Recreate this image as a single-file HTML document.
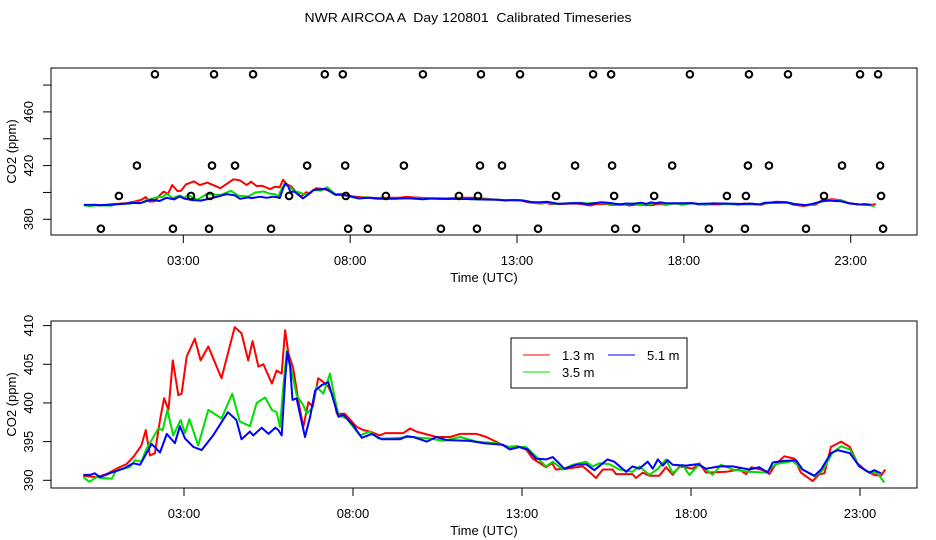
<!DOCTYPE html>
<html><head><meta charset="utf-8"><style>
html,body{margin:0;padding:0;background:#fff;}
svg{display:block;font-family:"Liberation Sans",sans-serif;}
</style></head><body>
<svg id="chart" width="936" height="540" viewBox="0 0 936 540" xmlns="http://www.w3.org/2000/svg">
<rect width="936" height="540" fill="#fff"/>
<text x="468" y="22" text-anchor="middle" font-size="13" xml:space="preserve" style="white-space:pre" textLength="327" lengthAdjust="spacingAndGlyphs">NWR AIRCOA A  Day 120801  Calibrated Timeseries</text>
<g id="top"></g>
<g id="bot"></g>
</svg>
<script>
const xTickHours = [3, 8, 13, 18, 23];
const xTickLabels = ["03:00", "08:00", "13:00", "18:00", "23:00"];
const topYTicks = [380, 400, 420, 440, 460, 480];
const topYLabels = ["380", "", "420", "", "460", ""];
const botYTicks = [390, 395, 400, 405, 410];
const botYLabels = ["390", "395", "400", "405", "410"];

const redTimes = [0.02,0.41,0.71,1.0,1.3,1.5,1.74,1.87,1.99,2.14,2.29,2.41,2.54,2.67,2.83,2.93,3.08,3.32,3.49,3.72,4.11,4.5,4.7,4.9,5.03,5.2,5.35,5.6,5.74,5.89,5.99,6.09,6.23,6.38,6.53,6.68,6.81,6.97,7.12,7.27,7.42,7.52,7.76,8.11,8.3,8.5,8.8,8.95,9.49,9.69,9.88,10.47,10.87,11.17,11.66,11.94,12.23,12.53,12.87,13.12,13.32,13.71,13.89,14.0,14.3,14.8,14.99,15.19,15.39,15.68,15.78,16.27,16.37,16.57,16.77,17.06,17.26,17.46,17.66,18.05,18.25,18.44,19.04,19.43,19.63,19.78,20.22,20.32,20.51,20.76,21.06,21.25,21.6,21.8,21.95,22.14,22.44,22.7,22.93,23.18,23.42,23.62,23.75];
const redValues = [390.6,390.4,390.8,391.5,392.1,393.0,394.5,396.5,393.2,393.5,397.8,400.6,399.1,405.5,401.0,401.2,406,408.3,405.5,407.3,403.2,409.8,409,405.5,408,404.7,405,402.5,404.2,403.8,409.4,406.4,404.5,400.4,396.9,400.1,399.5,403.2,402.7,402.1,400.8,398.6,398.6,396.9,396.5,396.3,395.8,396.1,396.1,396.7,396.3,395.6,395.6,396.0,396.0,395.6,395.0,394.3,394.4,394.0,392.8,391.7,392.2,391.4,391.5,391.8,391.1,390.3,391.4,391.4,390.8,390.8,390.3,391.0,390.6,390.6,391.7,390.7,391.8,391.5,392.2,391.0,391.1,391.4,390.8,391.7,391.2,390.8,392.1,393.1,392.8,391.0,389.9,390.8,390.9,394.3,395.0,394.3,392.2,391.2,390.7,390.6,391.4];

const greenTimes = [0.02,0.2,0.41,0.6,0.86,1.0,1.4,1.55,1.74,1.89,2.04,2.24,2.37,2.51,2.68,2.9,3.03,3.16,3.42,3.72,4.11,4.43,4.65,4.95,5.15,5.4,5.6,5.74,5.84,5.94,6.04,6.18,6.33,6.53,6.63,6.78,6.92,7.12,7.32,7.47,7.57,7.81,8.2,8.5,8.75,9.1,9.69,10.28,10.67,11.17,11.66,12.25,12.64,13.12,13.41,13.71,13.91,14.2,14.5,14.89,15.09,15.29,15.58,15.88,16.27,16.47,16.77,17.02,17.26,17.46,17.75,17.95,18.25,18.64,18.89,19.23,19.72,20.22,20.51,21.01,21.3,21.65,21.9,22.19,22.44,22.7,22.98,23.23,23.52,23.72];
const greenValues = [390.4,389.8,390.4,390.3,390.2,391.3,391.7,392.6,392.4,394.1,395.2,396.7,396.5,399.1,395.8,397.8,396.1,397.9,394.5,399.1,398,401.2,397.6,397,400,400.7,399.1,398.8,396.9,402.3,406.8,404.2,401,399.7,398.6,399.3,402.1,401.2,403.8,400.4,398.4,398,395.8,396.3,395.4,395.4,395.6,395.4,395.1,395.6,395.0,394.8,394.3,394.3,393.1,391.8,392.4,391.4,392,392.4,391.8,392.2,392.1,391.4,391.1,391.8,390.7,391.5,392.7,390.9,392,390.7,392.1,390.7,392,391.4,391.1,391,392.1,392.5,391.4,390.5,391.3,393.6,394.4,394,391.8,391.1,390.9,389.7];

const blueTimes = [0.02,0.22,0.36,0.51,0.8,1.2,1.5,1.7,1.89,2.04,2.29,2.49,2.73,2.88,3.03,3.28,3.52,3.86,4.3,4.55,4.7,4.95,5.05,5.3,5.5,5.7,5.79,5.89,5.99,6.06,6.14,6.21,6.33,6.43,6.58,6.73,6.88,7.07,7.27,7.42,7.57,7.71,8.01,8.26,8.55,8.85,9.39,9.59,9.79,10.18,10.47,10.77,11.46,11.86,12.12,12.43,12.64,12.92,13.17,13.41,13.71,13.91,14.25,14.6,14.89,15.14,15.53,15.73,16.08,16.27,16.47,16.72,16.87,17.02,17.17,17.31,17.46,17.85,18.2,18.44,18.84,19.23,19.73,20.02,20.27,20.42,20.71,21.11,21.3,21.65,21.85,22.14,22.34,22.7,22.98,23.28,23.42,23.62];
const blueValues = [390.7,390.7,390.9,390.4,390.9,391.5,392.2,392,393.5,394.7,393.6,396,394.8,397,395.4,394.3,393.9,395.8,398.8,397.8,395.3,396.3,395.8,396.8,396,396.8,396.5,395.8,403,406.6,404.7,400.4,400.6,398.6,395.6,398.2,401.6,402.3,402.7,400.4,398.2,398.5,397.1,395.5,396,395.3,395.3,395.7,395.6,395,395.6,395.2,395.1,394.8,394.7,394.6,394.0,394.3,394.0,392.8,392.7,393,391.5,392,392.1,391.3,392.7,392.4,391.1,391.8,391.5,392.4,391.5,392.7,391.9,392.6,392,391.9,392.1,391.5,391.8,391.8,391.4,391.7,391,392.3,392.5,392.6,391.4,390.6,391.4,393.5,393.9,393.5,391.8,391,391.3,390.9];

const flagRowValues = [488, 420, 397.4, 373];
const flagHoursRow1 = [2.15,3.92,5.09,7.24,7.78,10.18,11.92,13.09,15.28,15.82,18.18,19.95,21.12,23.28,23.82];
const flagHoursRow2 = [1.61,3.86,4.55,6.71,7.85,9.61,11.89,12.55,14.74,15.85,17.65,19.92,20.55,22.74,23.88];
const flagHoursRow3 = [1.07,3.23,3.80,6.17,7.87,9.07,11.26,11.83,14.17,15.91,17.11,19.29,19.86,22.2,23.91];
const flagHoursRow4 = [0.53,2.69,3.77,5.63,7.94,8.53,10.72,11.8,13.63,15.94,16.57,18.75,19.83,21.66,23.97];

const NS = "http://www.w3.org/2000/svg";
function mk(parent, tag, attrs, text) {
  const e = document.createElementNS(NS, tag);
  for (const k in attrs) e.setAttribute(k, attrs[k]);
  if (text !== undefined) e.textContent = text;
  parent.appendChild(e);
  return e;
}

function makePanel(g, P, yTicks, yLabels, xTitleY, tickLabelY) {
  const xs = h => P.x0h + h * P.pxh;
  const ys = v => P.yRef - (v - P.vRef) * P.pxv;
  const box = mk(g, "rect", {x: P.left, y: P.top, width: P.right - P.left, height: P.bottom - P.top, fill: "none", stroke: "#000", "stroke-width": 1});
  
  
  xTickHours.forEach((h, i) => {
    const t = mk(g, "line", {x1: xs(h), x2: xs(h), y1: P.bottom, y2: P.bottom + 8, stroke: "#000"});
    
    
    const l = mk(g, "text", {x: xs(h), y: tickLabelY, "text-anchor": "middle", "font-size": 13}, xTickLabels[i]);
    
    
  });
  yTicks.forEach((v, i) => {
    const t = mk(g, "line", {x1: P.left - 8, x2: P.left, y1: ys(v), y2: ys(v), stroke: "#000"});
    
    
    if (yLabels[i]) {
      const l = mk(g, "text", {x: 0, y: 0, "text-anchor": "middle", "font-size": 13, transform: `translate(33,${ys(v)}) rotate(-90)`}, yLabels[i]);
      
      
    }
  });
  const xt = mk(g, "text", {x: 484, y: xTitleY, "text-anchor": "middle", "font-size": 13}, "Time (UTC)");
  
  
  const yt = mk(g, "text", {x: 0, y: 0, "text-anchor": "middle", "font-size": 13, transform: `translate(16,${(P.top + P.bottom) / 2}) rotate(-90)`}, "CO2 (ppm)");
  
  
  const series = [["series-1-3m", redTimes, redValues, "#f00"], ["series-3-5m", greenTimes, greenValues, "#0d0"], ["series-5-1m", blueTimes, blueValues, "#00f"]];
  series.forEach(s => {
    const d = s[1].map((h, i) => (i ? "L" : "M") + xs(h).toFixed(1) + "," + ys(s[2][i]).toFixed(1)).join("");
    const p = mk(g, "path", {d: d, fill: "none", stroke: s[3], "stroke-width": 2, "stroke-linejoin": "round"});
    
    
  });
  return {xs, ys};
}

const topG = document.getElementById("top");
const T = makePanel(topG, {left: 51, right: 917, top: 68, bottom: 235, x0h: 83.2, pxh: 33.37, yRef: 219.3, vRef: 380, pxv: 1.3425}, topYTicks, topYLabels, 282, 265);
[flagHoursRow1, flagHoursRow2, flagHoursRow3, flagHoursRow4].forEach((row, r) => {
  row.forEach(h => {
    const c = mk(topG, "circle", {cx: T.xs(h), cy: T.ys(flagRowValues[r]), r: 3.3, fill: "none", stroke: "#000", "stroke-width": 2});
    
    
  });
});

const botG = document.getElementById("bot");
makePanel(botG, {left: 51, right: 917, top: 321, bottom: 488, x0h: 82.6, pxh: 33.8, yRef: 480.3, vRef: 390, pxv: 7.735}, botYTicks, botYLabels, 535, 518);

const lg = mk(botG, "g", {});


mk(lg, "rect", {x: 511, y: 338, width: 176, height: 50, fill: "#fff", stroke: "#000"});
const entries = [["1.3 m", "#f00", 523, 355], ["5.1 m", "#00f", 608, 355], ["3.5 m", "#0d0", 523, 372]];
entries.forEach(e => {
  const le = mk(lg, "g", {});
  
  
  mk(le, "line", {x1: e[2], x2: e[2] + 27, y1: e[3], y2: e[3], stroke: e[1], "stroke-width": 1});
  mk(le, "text", {x: e[2] + 39, y: e[3] + 5, "font-size": 13}, e[0]);
});
</script>
</body></html>
